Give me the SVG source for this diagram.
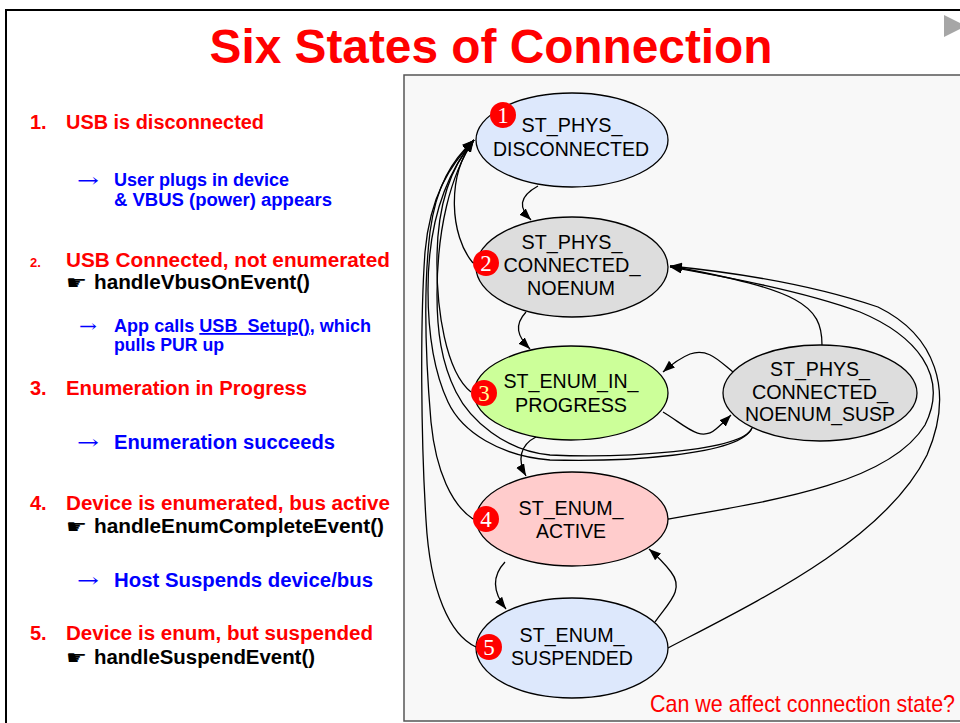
<svg xmlns="http://www.w3.org/2000/svg" width="960" height="723" viewBox="0 0 960 723">
<defs>
<marker id="ah" markerUnits="userSpaceOnUse" markerWidth="13" markerHeight="10" refX="12" refY="4.5" orient="auto">
<path d="M0,0 L12,4.5 L0,9 z" fill="#000"/>
</marker>
<style>
.red{fill:#ff0000;font-family:"Liberation Sans",Arial,sans-serif;font-weight:bold;font-size:20px}
.blue{fill:#0000ff;font-family:"Liberation Sans",Arial,sans-serif;font-weight:bold;font-size:18px}
.blk{fill:#000;font-family:"Liberation Sans",Arial,sans-serif;font-weight:bold;font-size:20px}
.arr{fill:#0000ff;font-family:"DejaVu Serif",serif;font-size:20px}
.hand{fill:#000;font-family:"DejaVu Sans",sans-serif;font-size:19px}
.lbl{fill:#000;font-family:"Liberation Sans",Arial,sans-serif;font-size:21px;text-anchor:middle}
.node{stroke:#000;stroke-width:1.3}
.badge{fill:#ff0000}
.bnum{fill:#fff;font-family:"Liberation Serif","Times New Roman",serif;font-size:23px;text-anchor:middle}
.edge{fill:none;stroke:#000;stroke-width:1.3;marker-end:url(#ah)}
</style>
</defs>
<rect x="0" y="0" width="960" height="723" fill="#fff"/>
<rect x="6" y="10" width="970" height="730" fill="none" stroke="#000" stroke-width="2"/>
<polygon points="944,15 966,26 944,37" fill="#a6a6a6"/>
<text x="491" y="63" text-anchor="middle" fill="#ff0000" font-family="Liberation Sans, Arial, sans-serif" font-weight="bold" font-size="48" textLength="563" lengthAdjust="spacingAndGlyphs">Six States of Connection</text>

<g id="notes">
<text class="red" x="30" y="129">1.</text>
<text class="red" x="66" y="129" textLength="198" lengthAdjust="spacingAndGlyphs">USB is disconnected</text>
<text class="arr" x="77" y="187" textLength="22" lengthAdjust="spacingAndGlyphs">→</text>
<text class="blue" x="114" y="186" textLength="175" lengthAdjust="spacingAndGlyphs">User plugs in device</text>
<text class="blue" x="114" y="206" textLength="218" lengthAdjust="spacingAndGlyphs">&amp; VBUS (power) appears</text>
<text class="red" x="30" y="267" style="font-size:13px">2.</text>
<text class="red" x="66" y="267" textLength="324" lengthAdjust="spacingAndGlyphs">USB Connected, not enumerated</text>
<text class="hand" x="66" y="289" textLength="21" lengthAdjust="spacingAndGlyphs">☛</text>
<text class="blk" x="94" y="289" textLength="216" lengthAdjust="spacingAndGlyphs">handleVbusOnEvent()</text>
<text class="arr" x="79" y="332" style="font-size:17px" textLength="18" lengthAdjust="spacingAndGlyphs">→</text>
<text class="blue" x="114" y="332" textLength="257" lengthAdjust="spacingAndGlyphs">App calls <tspan style="text-decoration:underline">USB_Setup()</tspan>, which</text>
<text class="blue" x="114" y="351" textLength="110" lengthAdjust="spacingAndGlyphs">pulls PUR up</text>
<text class="red" x="30" y="395">3.</text>
<text class="red" x="66" y="395" textLength="241" lengthAdjust="spacingAndGlyphs">Enumeration in Progress</text>
<text class="arr" x="77" y="449" textLength="22" lengthAdjust="spacingAndGlyphs">→</text>
<text class="blue" x="114" y="449" style="font-size:20px" textLength="221" lengthAdjust="spacingAndGlyphs">Enumeration succeeds</text>
<text class="red" x="30" y="510">4.</text>
<text class="red" x="66" y="510" textLength="324" lengthAdjust="spacingAndGlyphs">Device is enumerated, bus active</text>
<text class="hand" x="66" y="533" textLength="21" lengthAdjust="spacingAndGlyphs">☛</text>
<text class="blk" x="94" y="533" textLength="290" lengthAdjust="spacingAndGlyphs">handleEnumCompleteEvent()</text>
<text class="arr" x="77" y="587" textLength="22" lengthAdjust="spacingAndGlyphs">→</text>
<text class="blue" x="114" y="587" style="font-size:20px" textLength="259" lengthAdjust="spacingAndGlyphs">Host Suspends device/bus</text>
<text class="red" x="30" y="640">5.</text>
<text class="red" x="66" y="640" textLength="307" lengthAdjust="spacingAndGlyphs">Device is enum, but suspended</text>
<text class="hand" x="66" y="664" textLength="21" lengthAdjust="spacingAndGlyphs">☛</text>
<text class="blk" x="94" y="664" textLength="221" lengthAdjust="spacingAndGlyphs">handleSuspendEvent()</text>
</g>

<rect x="404" y="75" width="570" height="646" fill="#f8f8f8" stroke="#555" stroke-width="1.5"/>

<g id="n1">
<ellipse class="node" cx="572" cy="140" rx="96" ry="47" fill="#dde8fc"/>
<text class="lbl" x="572" y="132" textLength="101" lengthAdjust="spacingAndGlyphs">ST_PHYS_</text>
<text class="lbl" x="571" y="156" textLength="156" lengthAdjust="spacingAndGlyphs">DISCONNECTED</text>
<circle class="badge" cx="503" cy="115" r="13"/>
<text class="bnum" x="503" y="123">1</text>
</g>
<g id="n2">
<ellipse class="node" cx="572" cy="267" rx="96" ry="50" fill="#dddddd"/>
<text class="lbl" x="572" y="249" textLength="101" lengthAdjust="spacingAndGlyphs">ST_PHYS_</text>
<text class="lbl" x="572" y="272" textLength="137" lengthAdjust="spacingAndGlyphs">CONNECTED_</text>
<text class="lbl" x="571" y="295" textLength="88" lengthAdjust="spacingAndGlyphs">NOENUM</text>
<circle class="badge" cx="486" cy="263" r="13"/>
<text class="bnum" x="486" y="271">2</text>
</g>
<g id="n3">
<ellipse class="node" cx="571" cy="393" rx="97" ry="47" fill="#ccff99"/>
<text class="lbl" x="571" y="388" textLength="135" lengthAdjust="spacingAndGlyphs">ST_ENUM_IN_</text>
<text class="lbl" x="571" y="412" textLength="112" lengthAdjust="spacingAndGlyphs">PROGRESS</text>
<circle class="badge" cx="484" cy="393" r="13"/>
<text class="bnum" x="484" y="401" style="fill:#ffff99">3</text>
</g>
<g id="n4">
<ellipse class="node" cx="820" cy="393" rx="97" ry="48" fill="#dddddd"/>
<text class="lbl" x="820" y="376" textLength="100" lengthAdjust="spacingAndGlyphs">ST_PHYS_</text>
<text class="lbl" x="820" y="399" textLength="136" lengthAdjust="spacingAndGlyphs">CONNECTED_</text>
<text class="lbl" x="820" y="421" textLength="150" lengthAdjust="spacingAndGlyphs">NOENUM_SUSP</text>
</g>
<g id="n5">
<ellipse class="node" cx="572" cy="519" rx="96" ry="47" fill="#ffcccc"/>
<text class="lbl" x="571" y="515" textLength="105" lengthAdjust="spacingAndGlyphs">ST_ENUM_</text>
<text class="lbl" x="571" y="538" textLength="70" lengthAdjust="spacingAndGlyphs">ACTIVE</text>
<circle class="badge" cx="486" cy="519" r="13"/>
<text class="bnum" x="486" y="527">4</text>
</g>
<g id="n6">
<ellipse class="node" cx="572" cy="648" rx="96" ry="50" fill="#dde8fc"/>
<text class="lbl" x="572" y="642" textLength="105" lengthAdjust="spacingAndGlyphs">ST_ENUM_</text>
<text class="lbl" x="572" y="665" textLength="122" lengthAdjust="spacingAndGlyphs">SUSPENDED</text>
<circle class="badge" cx="489" cy="647" r="13"/>
<text class="bnum" x="489" y="655">5</text>
</g>

<g id="connectors">
<path class="edge" d="M538,186 C518,197 519,208 531,220"/>
<path class="edge" d="M473,263 C450,236 446,176 474,140"/>
<path class="edge" d="M471,392 C446,372 436,310 437,255 C438,200 452,165 474,140"/>
<path class="edge" d="M752,428 C742,452 620,458 550,455 C505,451 470,420 456,392 C441,362 437,330 437,295 C437,230 450,175 474,140"/>
<path class="edge" d="M752,428 C740,456 620,462 550,460 C500,456 462,432 448,402 C433,370 428,330 428,290 C428,222 445,175 474,140"/>
<path class="edge" d="M473,519 C452,505 436,472 431,422 C425,352 424,282 430,232 C436,186 452,160 474,140"/>
<path class="edge" d="M476,647 C450,635 430,592 426,520 C421,440 420,322 425,252 C430,196 450,165 474,140"/>
<path class="edge" d="M526,312 C514,325 517,336 530,349"/>
<path class="edge" d="M536,437 C520,445 517,460 526,476"/>
<path class="edge" d="M505,562 C490,578 495,595 506,609"/>
<path class="edge" d="M655,622 C668,603 685,590 671,572 C665,564 657,556 649,549"/>
<path class="edge" d="M663,412 C685,425 700,443 716,429 C722,424 727,419 731,415"/>
<path class="edge" d="M733,372 C718,360 708,348 690,354 C680,358 672,364 663,372"/>
<path class="edge" d="M822,345 C822,305 800,290 670,266"/>
<path class="edge" d="M668,519 C780,500 890,482 925,425 C950,375 915,335 860,312 C800,290 720,276 670,267"/>
<path class="edge" d="M668,648 C760,600 885,540 927,455 C955,390 935,335 878,307 C810,284 730,272 670,266"/>
</g>

<text x="955" y="712" text-anchor="end" fill="#ff0000" font-family="Liberation Sans, Arial, sans-serif" font-size="24" textLength="305" lengthAdjust="spacingAndGlyphs">Can we affect connection state?</text>
</svg>
